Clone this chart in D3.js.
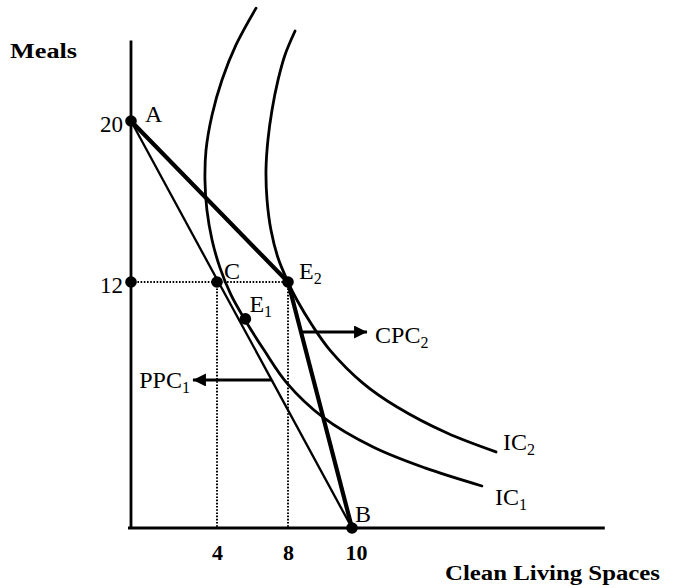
<!DOCTYPE html>
<html>
<head>
<meta charset="utf-8">
<script src="https://cdn.jsdelivr.net/npm/d3@7"></script>
<style>
  html, body { margin: 0; padding: 0; background: #fff; }
  svg { display: block; }
  text { font-family: "Liberation Serif", "Times New Roman", serif; fill: #000; }
</style>
</head>
<body>
<svg id="chart" width="683" height="588"></svg>
<script>
// ---- data ----
const xTicks = [4, 8, 10];
const yTicks = [20, 12];
const xAxisMax = 17.9;
const yAxisMax = 24.0;

const pointA = [0, 20];
const pointB = [10, 0];
const pointC = [4, 12];
const pointE2 = [8, 12];
const pointE1 = [5.6, 10.2];
const point12 = [0, 12];

// indifference curves (Clean Living Spaces, Meals)
const ic1 = [[6.20, 25.61], [5.07, 23.78], [4.28, 22.04], [3.77, 20.30], [3.49, 18.56], [3.44, 17.07],
             [3.53, 15.58], [3.77, 14.09], [4.17, 12.70], [4.79, 11.37], [5.58, 10.15], [6.65, 8.68],
             [7.94, 7.07], [9.09, 5.41], [10.66, 3.95], [12.28, 2.93], [14.06, 2.05]];
const ic2 = [[8.22, 24.47], [7.83, 23.28], [7.44, 22.04], [7.10, 20.55], [6.87, 19.06], [6.76, 17.57],
             [6.82, 16.07], [7.04, 14.58], [7.44, 13.19], [8.00, 12.00], [8.28, 11.12], [8.75, 9.90],
             [9.31, 8.68], [10.34, 7.07], [11.41, 5.90], [12.97, 4.63], [14.50, 3.71]];

// arrows: y level (Meals) and arrow tip (Clean Living Spaces)
const ppcArrow = { y: 7.22, tip: 2.88 };
const cpcArrow = { y: 9.56, tip: 10.47 };

// ---- scales ----
const x = d3.scaleLinear().domain([0, 4, 8, 10]).range([131, 217, 288, 352]);
const y = d3.scaleLinear().domain([0, 12, 20]).range([528, 282, 121]);

const svg = d3.select("#chart");

// arrowhead marker
svg.append("defs").append("marker")
  .attr("id", "arrow").attr("viewBox", "0 0 10 10")
  .attr("refX", 10).attr("refY", 5)
  .attr("markerWidth", 15).attr("markerHeight", 13)
  .attr("markerUnits", "userSpaceOnUse")
  .attr("orient", "auto")
  .append("path").attr("d", "M0,0 L10,5 L0,10 Z").attr("fill", "#000");

// dotted guides
const dotted = svg.append("g").attr("stroke", "#000").attr("stroke-width", 2)
  .attr("stroke-dasharray", "1.6,1.6").attr("fill", "none");
dotted.append("line").attr("x1", x(point12[0])).attr("y1", y(point12[1]))
  .attr("x2", x(pointE2[0])).attr("y2", y(pointE2[1]));
dotted.append("line").attr("x1", x(pointC[0])).attr("y1", y(pointC[1]))
  .attr("x2", x(pointC[0])).attr("y2", y(0));
dotted.append("line").attr("x1", x(pointE2[0])).attr("y1", y(pointE2[1]))
  .attr("x2", x(pointE2[0])).attr("y2", y(0));

// axes lines
svg.append("line").attr("x1", x(0)).attr("y1", y(0)).attr("x2", x(0)).attr("y2", y(yAxisMax))
  .attr("stroke", "#000").attr("stroke-width", 2.8);
svg.append("line").attr("x1", x(0) - 3).attr("y1", y(0)).attr("x2", x(xAxisMax)).attr("y2", y(0))
  .attr("stroke", "#000").attr("stroke-width", 2.8);

// axis tick labels
const xAxis = d3.axisBottom(x).tickValues(xTicks).tickSize(0).tickPadding(16).tickFormat(d3.format("d"));
const gx = svg.append("g").attr("transform", `translate(0,${y(0)})`).call(xAxis);
gx.select(".domain").remove();
gx.selectAll("text").attr("font-family", "Liberation Serif").attr("font-size", 22)
  .attr("font-weight", "bold").attr("fill", "#000");
gx.selectAll(".tick").filter(d => d === 10).select("text").attr("dx", 4);

const yAxis = d3.axisLeft(y).tickValues(yTicks).tickSize(0).tickPadding(8).tickFormat(d3.format("d"));
const gy = svg.append("g").attr("transform", `translate(${x(0)},0)`).call(yAxis);
gy.select(".domain").remove();
gy.selectAll("text").attr("font-family", "Liberation Serif").attr("font-size", 23)
  .attr("fill", "#000").attr("dy", "0.45em");

// straight lines
const line2 = d3.line().x(d => x(d[0])).y(d => y(d[1]));
svg.append("path").attr("d", line2([pointA, pointB]))
  .attr("stroke", "#000").attr("stroke-width", 2.3).attr("fill", "none");
svg.append("path").attr("d", line2([pointA, pointE2, pointB]))
  .attr("stroke", "#000").attr("stroke-width", 4.2).attr("fill", "none").attr("stroke-linejoin", "miter");

// indifference curves
const curve = d3.line().x(d => x(d[0])).y(d => y(d[1])).curve(d3.curveCatmullRom.alpha(0.5));
[ic1, ic2].forEach(c => {
  svg.append("path").attr("d", curve(c)).attr("stroke", "#000").attr("stroke-width", 2.8)
    .attr("fill", "none").attr("stroke-linecap", "round");
});

// arrows
function xOnSegment(p, q, yv) {
  const py = y(yv), y1 = y(p[1]), y2 = y(q[1]);
  const t = (py - y1) / (y2 - y1);
  return x(p[0]) + t * (x(q[0]) - x(p[0]));
}
svg.append("line")
  .attr("x1", xOnSegment(pointA, pointB, ppcArrow.y)).attr("y1", y(ppcArrow.y))
  .attr("x2", x(ppcArrow.tip)).attr("y2", y(ppcArrow.y))
  .attr("stroke", "#000").attr("stroke-width", 2.8).attr("marker-end", "url(#arrow)");
svg.append("line")
  .attr("x1", xOnSegment(pointE2, pointB, cpcArrow.y)).attr("y1", y(cpcArrow.y))
  .attr("x2", x(cpcArrow.tip)).attr("y2", y(cpcArrow.y))
  .attr("stroke", "#000").attr("stroke-width", 2.8).attr("marker-end", "url(#arrow)");

// dots
[pointA, point12, pointC, pointE2, pointE1, pointB].forEach(p => {
  svg.append("circle").attr("cx", x(p[0])).attr("cy", y(p[1])).attr("r", 5.8).attr("fill", "#000");
});

// labels
function label(txt, sub, px, py, anchor) {
  const t = svg.append("text").attr("x", px).attr("y", py).attr("font-size", 24)
    .attr("text-anchor", anchor || "start");
  t.append("tspan").text(txt);
  if (sub) t.append("tspan").attr("font-size", 16).attr("dy", 5).text(sub);
  return t;
}
label("A", null, x(pointA[0]) + 14, y(pointA[1]) + 1);
label("C", null, x(pointC[0]) + 7, y(pointC[1]) - 3);
label("E", "2", x(pointE2[0]) + 11, y(pointE2[1]) - 3);
label("E", "1", x(pointE1[0]) + 4, y(pointE1[1]) - 7);
label("B", null, x(pointB[0]) + 3, y(pointB[1]) - 6);
label("CPC", "2", x(cpcArrow.tip) + 8, y(cpcArrow.y) + 11);
label("PPC", "1", x(ppcArrow.tip) - 3, y(ppcArrow.y) + 8, "end");
label("IC", "2", 503, 450);
label("IC", "1", 495, 505);

// axis titles
svg.append("text").attr("x", 10).attr("y", 58).attr("font-size", 20).attr("font-weight", "bold")
  .attr("textLength", 67).attr("lengthAdjust", "spacingAndGlyphs").text("Meals");
svg.append("text").attr("x", 445).attr("y", 580).attr("font-size", 20).attr("font-weight", "bold")
  .attr("textLength", 215).attr("lengthAdjust", "spacingAndGlyphs").text("Clean Living Spaces");
</script>
</body>
</html>
